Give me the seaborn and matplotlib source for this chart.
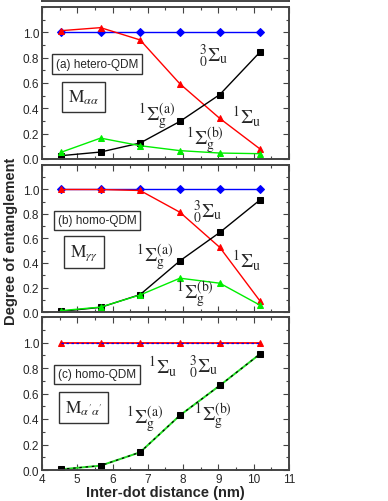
import seaborn as sns
import matplotlib.pyplot as plt
import numpy as np
import pandas as pd
from matplotlib.ticker import MultipleLocator

# inter-dot distance (nm)
distance = [4.53, 5.66, 6.78, 7.91, 9.04, 10.17]

# (a) hetero-QDM, M_aa
a_triplet = [1.0, 1.0, 1.0, 1.0, 1.0, 1.0]
a_sigma_u = [1.013, 1.037, 0.94, 0.593, 0.32, 0.081]
a_sigma_ga = [0.026, 0.055, 0.126, 0.297, 0.509, 0.842]
a_sigma_gb = [0.052, 0.165, 0.105, 0.066, 0.047, 0.042]

# (b) homo-QDM, M_gg
b_triplet = [1.0, 1.0, 1.0, 1.0, 1.0, 1.0]
b_sigma_u = [1.0, 1.0, 0.992, 0.814, 0.527, 0.093]
b_sigma_ga = [0.005, 0.038, 0.142, 0.418, 0.65, 0.913]
b_sigma_gb = [0.011, 0.04, 0.139, 0.276, 0.235, 0.057]

# (c) homo-QDM, M_a'a'
c_triplet = [1.0, 1.0, 1.0, 1.0, 1.0, 1.0]
c_sigma_u = [1.0, 1.0, 1.0, 1.0, 1.0, 1.0]
c_sigma_ga = [0.005, 0.034, 0.139, 0.429, 0.663, 0.908]
c_sigma_gb = [0.005, 0.034, 0.139, 0.429, 0.663, 0.908]

sns.set_style('ticks')
plt.rcParams['font.family'] = ['Liberation Sans', 'DejaVu Sans']
plt.rcParams['mathtext.fontset'] = 'stix'

fig = plt.figure(figsize=(3.88, 5.02), dpi=100)
W = 388.0
H = 502.0

# panel rectangles in pixels: (top, bottom)
panels = [(8, 160), (166, 313), (318, 471)]
left, right = 42, 289

# bit of the panel above, cut off at the top edge
top_ax = fig.add_axes([left / W, 1 - 1.5 / H, (right - left) / W, 0.1])
top_ax.set_xticks([])
top_ax.set_yticks([])
for s in top_ax.spines.values():
    s.set_color('#444444')
    s.set_linewidth(1.4)

S = r'\Sigma'
trip_lab = r'${}^{3}_{0}%s_{\mathrm{u}}$' % S
u_lab = r'$^{1}%s_{\mathrm{u}}$' % S
ga_lab = r'$^{1}%s_{\mathrm{g}}^{\mathrm{(a)}}$' % S
gb_lab = r'$^{1}%s_{\mathrm{g}}^{\mathrm{(b)}}$' % S
texts = [
    {'box': '(a) hetero-QDM', 'M': r'$\mathrm{M}_{\alpha\alpha}$',
     'labels': [(8.85, 0.82, trip_lab), (7.25, 0.34, ga_lab),
                (9.8, 0.34, u_lab), (8.62, 0.15, gb_lab)]},
    {'box': '(b) homo-QDM', 'M': r'$\mathrm{M}_{\gamma\gamma}$',
     'labels': [(8.7, 0.82, trip_lab), (7.2, 0.45, ga_lab),
                (9.8, 0.43, u_lab), (8.33, 0.15, gb_lab)]},
    {'box': '(c) homo-QDM', 'M': r"$\mathrm{M}_{\alpha'\alpha'}$",
     'labels': [(7.43, 0.82, u_lab), (8.57, 0.81, trip_lab),
                (6.92, 0.40, ga_lab), (8.85, 0.43, gb_lab)]},
]

series = [
    (a_triplet, a_sigma_u, a_sigma_ga, a_sigma_gb),
    (b_triplet, b_sigma_u, b_sigma_ga, b_sigma_gb),
    (c_triplet, c_sigma_u, c_sigma_ga, c_sigma_gb),
]

for i, ((top, bot), (trip, su, sga, sgb), txt) in enumerate(zip(panels, series, texts)):
    ax = fig.add_axes([left / W, 1 - bot / H, (right - left) / W, (bot - top) / H])
    df = pd.DataFrame({'x': distance, 'trip': trip, 'su': su, 'sga': sga, 'sgb': sgb})

    if i < 2:
        sns.lineplot(data=df, x='x', y='trip', ax=ax, color='#0000ff', marker='D',
                     markersize=3.8, markeredgecolor='#0000ff', linewidth=1)
        sns.lineplot(data=df, x='x', y='su', ax=ax, color='#ff0000', marker='^',
                     markersize=5, markeredgecolor='#ff0000', linewidth=1)
        sns.lineplot(data=df, x='x', y='sga', ax=ax, color='black', marker='s',
                     markersize=4, markeredgecolor='black', linewidth=1)
        sns.lineplot(data=df, x='x', y='sgb', ax=ax, color='#00ee00', marker='^',
                     markersize=5, markeredgecolor='#00ee00', linewidth=1)
    else:
        sns.lineplot(data=df, x='x', y='su', ax=ax, color='#ff0000', marker='^',
                     markersize=5, markeredgecolor='#ff0000', linewidth=1.3)
        sns.lineplot(data=df, x='x', y='trip', ax=ax, color='#0000ff', marker=None,
                     linestyle=(0, (2, 2)), linewidth=0.9)
        sns.lineplot(data=df, x='x', y='sgb', ax=ax, color='#22dd22', marker=None,
                     linewidth=1.4)
        sns.lineplot(data=df, x='x', y='sga', ax=ax, color='black', marker='s',
                     markersize=4, markeredgecolor='black', markerfacecolor='black',
                     linestyle=(0, (2, 3)), linewidth=0.9)

    ax.set_xlim(4, 11)
    ax.set_ylim(0, 1.2)
    ax.set_yticks(np.arange(0, 1.01, 0.2))
    ax.yaxis.set_minor_locator(MultipleLocator(0.1))
    ax.xaxis.set_major_locator(MultipleLocator(1))
    ax.xaxis.set_minor_locator(MultipleLocator(0.5))
    ax.tick_params(which='both', direction='in', top=True, right=True,
                   labelsize=8.5, color='#444444', pad=2)
    ax.tick_params(which='major', length=4, width=0.8)
    ax.tick_params(which='minor', length=2, width=0.8)
    ax.set_yticklabels(['0.0', '0.2', '0.4', '0.6', '0.8', '1.0'])
    if i < 2:
        ax.set_xticklabels([])
    ax.set_xlabel('')
    ax.set_ylabel('')
    for s in ax.spines.values():
        s.set_color('#444444')
        s.set_linewidth(1.4)

    ax.text(5.56, 0.75, txt['box'], fontsize=8.5, ha='center', va='center',
            bbox=dict(boxstyle='square,pad=0.3', facecolor='white',
                      edgecolor='#333333', linewidth=1))
    ax.text(5.18, 0.49, txt['M'], fontsize=12.5, ha='center', va='center',
            bbox=dict(boxstyle='square,pad=0.35', facecolor='white',
                      edgecolor='#333333', linewidth=1))
    for (lx, ly, lab) in txt['labels']:
        ax.text(lx, ly, lab, fontsize=14, ha='center', va='center')

    if i == 2:
        ax.set_xlabel('Inter-dot distance (nm)', fontsize=10.5, fontweight='bold',
                      labelpad=0)

fig.text(0.028, 0.52, 'Degree of entanglement', rotation=90, fontsize=10.5,
         fontweight='bold', ha='center', va='center')

plt.savefig('out.png', dpi=100)
